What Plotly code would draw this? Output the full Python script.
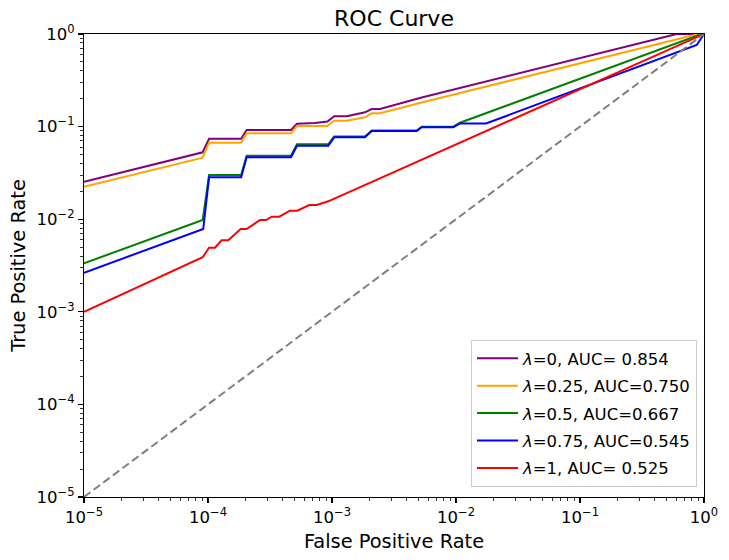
import plotly.graph_objects as go

# ---------------- data ----------------
fpr_l0 = [1e-5, 9.06e-5, 1.02e-4, 1.85e-4, 2.05e-4, 4.67e-4, 5.22e-4, 7.29e-4, 9.2e-4,
          1.04e-3, 1.315e-3, 1.845e-3, 2.09e-3, 2.44e-3, 5.29e-3, 0.602, 1.0]
tpr_l0 = [0.0254, 0.0528, 0.074, 0.074, 0.092, 0.092, 0.1075, 0.1094, 0.1135,
          0.1292, 0.1292, 0.1427, 0.1549, 0.1549, 0.206, 1.0, 1.0]

fpr_l25 = [1e-5, 9.06e-5, 1.02e-4, 1.85e-4, 2.05e-4, 4.67e-4, 5.22e-4, 9.16e-4,
           1.04e-3, 1.315e-3, 1.845e-3, 2.09e-3, 2.44e-3, 4.82e-3, 5.29e-3, 0.90, 1.0]
tpr_l25 = [0.0224, 0.0461, 0.067, 0.067, 0.0847, 0.0847, 0.1015, 0.1015,
           0.1158, 0.1158, 0.126, 0.1392, 0.1392, 0.174, 0.182, 1.0, 1.0]

fpr_l50 = [1e-5, 9.06e-5, 1.02e-4, 1.85e-4, 2.05e-4, 4.67e-4, 5.22e-4, 9.33e-4,
           1.04e-3, 1.845e-3, 2.09e-3, 4.82e-3, 5.29e-3, 9.51e-3, 1.077e-2, 0.958, 1.0]
tpr_l50 = [0.00334, 0.0098, 0.030, 0.030, 0.0485, 0.0485, 0.0644, 0.0644,
           0.0782, 0.0782, 0.0908, 0.0908, 0.0997, 0.0997, 0.110, 1.0, 1.0]

fpr_l75 = [1e-5, 9.15e-5, 1.02e-4, 1.85e-4, 2.05e-4, 4.67e-4, 5.22e-4, 9.33e-4,
           1.04e-3, 1.845e-3, 2.09e-3, 4.82e-3, 5.29e-3, 9.51e-3, 1.077e-2, 1.746e-2, 0.873, 1.0]
tpr_l75 = [0.00264, 0.00784, 0.0283, 0.0283, 0.0466, 0.0466, 0.0622, 0.0622,
           0.0766, 0.0766, 0.0897, 0.0897, 0.0984, 0.0984, 0.108, 0.108, 0.761, 1.0]

fpr_l100 = [1e-5, 9.06e-5, 1.02e-4, 1.138e-4, 1.288e-4, 1.458e-4, 1.835e-4, 2.05e-4,
            2.63e-4, 2.94e-4, 3.27e-4, 3.76e-4, 4.58e-4, 5.25e-4, 6.56e-4, 7.53e-4, 9.33e-4, 1.0]
tpr_l100 = [0.001, 0.00388, 0.00492, 0.00492, 0.00592, 0.00592, 0.00784, 0.00784,
            0.0098, 0.0098, 0.01064, 0.01064, 0.01235, 0.01235, 0.01423, 0.01423, 0.0156, 1.0]

chance = [1e-5, 1.0]

series_labels = ["<i>λ</i>=0, AUC= 0.854", "<i>λ</i>=0.25, AUC=0.750",
                 "<i>λ</i>=0.5, AUC=0.667", "<i>λ</i>=0.75, AUC=0.545",
                 "<i>λ</i>=1, AUC= 0.525"]
series_colors = ["#800080", "#FFA500", "#008000", "#0000FF", "#FF0000"]

tick_vals = [1e-5, 1e-4, 1e-3, 1e-2, 1e-1, 1.0]
tick_text = ["10<sup>−5</sup>", "10<sup>−4</sup>", "10<sup>−3</sup>",
             "10<sup>−2</sup>", "10<sup>−1</sup>", "10<sup>0</sup>"]

# ---------------- figure ----------------
FONT = "DejaVu Sans"
fig = go.Figure()

series = [(fpr_l0, tpr_l0), (fpr_l25, tpr_l25), (fpr_l50, tpr_l50),
          (fpr_l75, tpr_l75), (fpr_l100, tpr_l100)]
for i, ((fx, ty), lab, col) in enumerate(zip(series, series_labels, series_colors)):
    fig.add_trace(go.Scatter(x=fx, y=ty, mode="lines", name=lab,
                             legendgroup="g%d" % i,
                             line=dict(color=col, width=2), hoverinfo="skip"))

fig.add_trace(go.Scatter(x=chance, y=chance, mode="lines", showlegend=False,
                         line=dict(color="#808080", width=2, dash="8px,4px"),
                         hoverinfo="skip"))

minor_vals = [m * 10.0 ** e for e in range(-5, 0) for m in range(2, 10)]

axis_common = dict(
    type="log", range=[-5, 0], showgrid=False, zeroline=False,
    showline=True, linecolor="black", linewidth=1.1, mirror=True,
    ticks="outside", ticklen=5, tickwidth=1.1, tickcolor="black",
    tickmode="array", tickvals=tick_vals, ticktext=tick_text,
    tickfont=dict(family=FONT, size=16.5, color="black"),
    minor=dict(ticks="outside", ticklen=3, tickwidth=0.8, tickcolor="black",
               tickmode="array", tickvals=minor_vals, showgrid=False),
)

fig.update_layout(
    width=729, height=560,
    margin=dict(l=84, r=25, t=34, b=63),
    paper_bgcolor="white", plot_bgcolor="white",
    font=dict(family=FONT, color="black"),
    title=dict(text="ROC Curve", x=0.5, xref="paper", xanchor="center",
               y=1 - 18 / 560, yref="container", yanchor="middle",
               font=dict(family=FONT, size=22, color="black")),
    xaxis=dict(axis_common, title=dict(text="False Positive Rate", standoff=8,
                                       font=dict(family=FONT, size=19.4))),
    yaxis=dict(axis_common, title=dict(text="True Positive Rate", standoff=5,
                                       font=dict(family=FONT, size=19.4))),
    legend=dict(x=0.9887, y=0.0216, xanchor="right", yanchor="bottom",
                bgcolor="rgba(255,255,255,0.8)", bordercolor="#cccccc",
                borderwidth=1, tracegroupgap=3, itemwidth=41,
                font=dict(family=FONT, size=16.5, color="black")),
    showlegend=True,
)

page_fix = ("document.documentElement.style.margin='0';"
            "document.body.style.margin='0';"
            "document.body.style.padding='0';"
            "document.documentElement.style.overflow='hidden';"
            "document.body.style.overflow='hidden';")

fig.write_html("out.html", post_script=page_fix,
               config={"displayModeBar": False, "staticPlot": True})
